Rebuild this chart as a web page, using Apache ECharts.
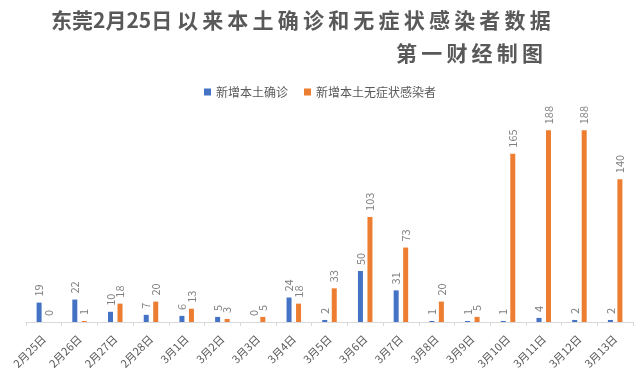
<!DOCTYPE html>
<html><head><meta charset="utf-8">
<script src="https://cdn.jsdelivr.net/npm/echarts@6/dist/echarts.min.js"></script>
<style>html,body{margin:0;padding:0;background:#fff}#c{width:640px;height:380px}</style>
</head><body><div id="c"></div>
<script>
const categories = ['2月25日','2月26日','2月27日','2月28日','3月1日','3月2日','3月3日','3月4日','3月5日','3月6日','3月7日','3月8日','3月9日','3月10日','3月11日','3月12日','3月13日'];
const confirmed = [19,22,10,7,6,5,0,24,2,50,31,1,1,1,4,2,2];
const asymptomatic = [0,1,18,20,13,3,5,18,33,103,73,20,5,165,188,188,140];
const seriesNames = ['新增本土确诊','新增本土无症状感染者'];
const titleText = '东莞2月25日以来本土确诊和无症状感染者数据';
const subtitleText = '第一财经制图';

const spaced = (s, sp) => s.split('').join(sp);
const titleShown = titleText.slice(0, 7) + ' ' + spaced(titleText.slice(7), '\u2009');
const font = '"Noto Sans CJK SC", "Noto Sans", sans-serif';
const chart = echarts.init(document.getElementById('c'));
const lbl = {show:true, position:'top', rotate:90, align:'left', verticalAlign:'middle', distance:6, color:'#7f7f7f', fontSize:11, fontFamily:font};
chart.setOption({
  animation:false,
  title:[
    {text:titleShown, left:51, top:10, padding:0, textStyle:{fontFamily:font, fontSize:21, fontWeight:'bold', color:'#595959'}},
    {text:spaced(subtitleText,'\u2009'), left:396, top:43, padding:0, textStyle:{fontFamily:font, fontSize:21, fontWeight:'bold', color:'#595959'}}
  ],
  legend:{top:81, left:'center', itemWidth:7, itemHeight:7, itemGap:16, icon:'rect',
    textStyle:{fontFamily:font, fontSize:12, color:'#595959'}, data:seriesNames},
  grid:{left:26, right:7, top:118, bottom:58, containLabel:false},
  xAxis:{type:'category', data:categories,
    axisLine:{lineStyle:{color:'#d9d9d9'}},
    axisTick:{show:true, length:4, lineStyle:{color:'#d9d9d9'}},
    axisLabel:{rotate:45, interval:0, color:'#595959', fontSize:11, fontFamily:font, margin:15}},
  yAxis:{type:'value', min:0, max:200, show:false, splitLine:{show:false}},
  series:[
    {name:seriesNames[0], type:'bar', data:confirmed, barWidth:5, barGap:'90%', itemStyle:{color:'#4472C4'}, label:lbl},
    {name:seriesNames[1], type:'bar', data:asymptomatic, barWidth:5, itemStyle:{color:'#ED7D31'}, label:lbl}
  ]
});
</script></body></html>
